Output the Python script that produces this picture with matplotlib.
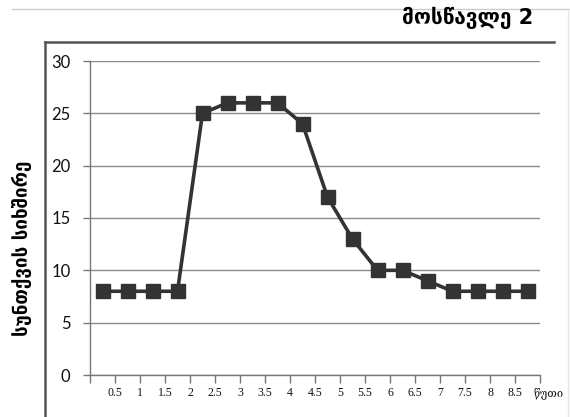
import numpy as np
import matplotlib
matplotlib.use("Agg")
import matplotlib.pyplot as plt
from matplotlib.lines import Line2D

# data
breath_rate = [8, 8, 8, 8, 25, 26, 26, 26, 24, 17, 13, 10, 10, 9, 8, 8, 8, 8]
minute_labels = ['0.5', '1', '1.5', '2', '2.5', '3', '3.5', '4', '4.5',
                 '5', '5.5', '6', '6.5', '7', '7.5', '8', '8.5']
y_ticks = [0, 5, 10, 15, 20, 25, 30]

title = 'მოსწავლე 2'
y_label = 'სუნთქვის სიხშირე'
x_label = 'წუთი'

W, H = 570, 417
fig = plt.figure(figsize=(W / 100, H / 100), dpi=100)
fig.patch.set_facecolor('white')

# plot area in pixels: x 90..540, y 61..375
ax = fig.add_axes([90 / W, (H - 375) / H, 450 / W, (375 - 61) / H])

n = len(breath_rate)
xs = np.arange(n) + 0.5
ax.plot(xs, breath_rate, color='#333333', lw=2.6, marker='s', ms=9.5,
        markerfacecolor='#333333', markeredgecolor='#333333', zorder=3)

ax.set_xlim(0, n)
ax.set_ylim(0, 30)

ax.set_yticks(y_ticks)
ax.set_yticklabels([str(v) for v in y_ticks], fontsize=12, family='Lato',
                   color='#111111')
ax.yaxis.grid(True, color='#8a8a8a', lw=1)
ax.set_axisbelow(True)

# tick marks at category boundaries, labels roughly at 2*value
ax.set_xticks(np.arange(n + 1))
ax.set_xticklabels([''] * (n + 1))
ax.tick_params(axis='x', direction='out', length=6, color='#777777', width=1)
ax.tick_params(axis='y', direction='out', length=5, color='#777777', width=1, pad=9)
for lab in minute_labels:
    ax.text(2 * float(lab), -1.7, lab, ha='center', va='center', fontsize=8.5,
            family='Liberation Serif', color='#111111')
ax.text(n + 0.35, -1.7, x_label, ha='center', va='center', fontsize=8,
        family='DejaVu Serif', color='#111111')

for s in ['top', 'right']:
    ax.spines[s].set_visible(False)
for s in ['left', 'bottom']:
    ax.spines[s].set_color('#777777')
    ax.spines[s].set_linewidth(1)

# outer frame and title
fig.add_artist(Line2D([45 / W, 45 / W], [0, (H - 42) / H], color='#555555', lw=1.8))
fig.add_artist(Line2D([45 / W, 554 / W], [(H - 42) / H, (H - 42) / H], color='#555555', lw=1.8))
fig.add_artist(Line2D([12 / W, 1], [(H - 9) / H, (H - 9) / H], color='#cccccc', lw=1))
fig.add_artist(Line2D([568 / W, 568 / W], [0, (H - 9) / H], color='#e6e6e6', lw=1))

fig.text(533 / W, (H - 18) / H, title, ha='right', va='center', fontsize=15,
         fontweight='bold', family='DejaVu Sans')
fig.text(22 / W, (H - 248) / H, y_label, ha='center', va='center', rotation=90,
         fontsize=13.5, fontweight='bold', family='DejaVu Sans')

fig.savefig('out.png', dpi=100)
